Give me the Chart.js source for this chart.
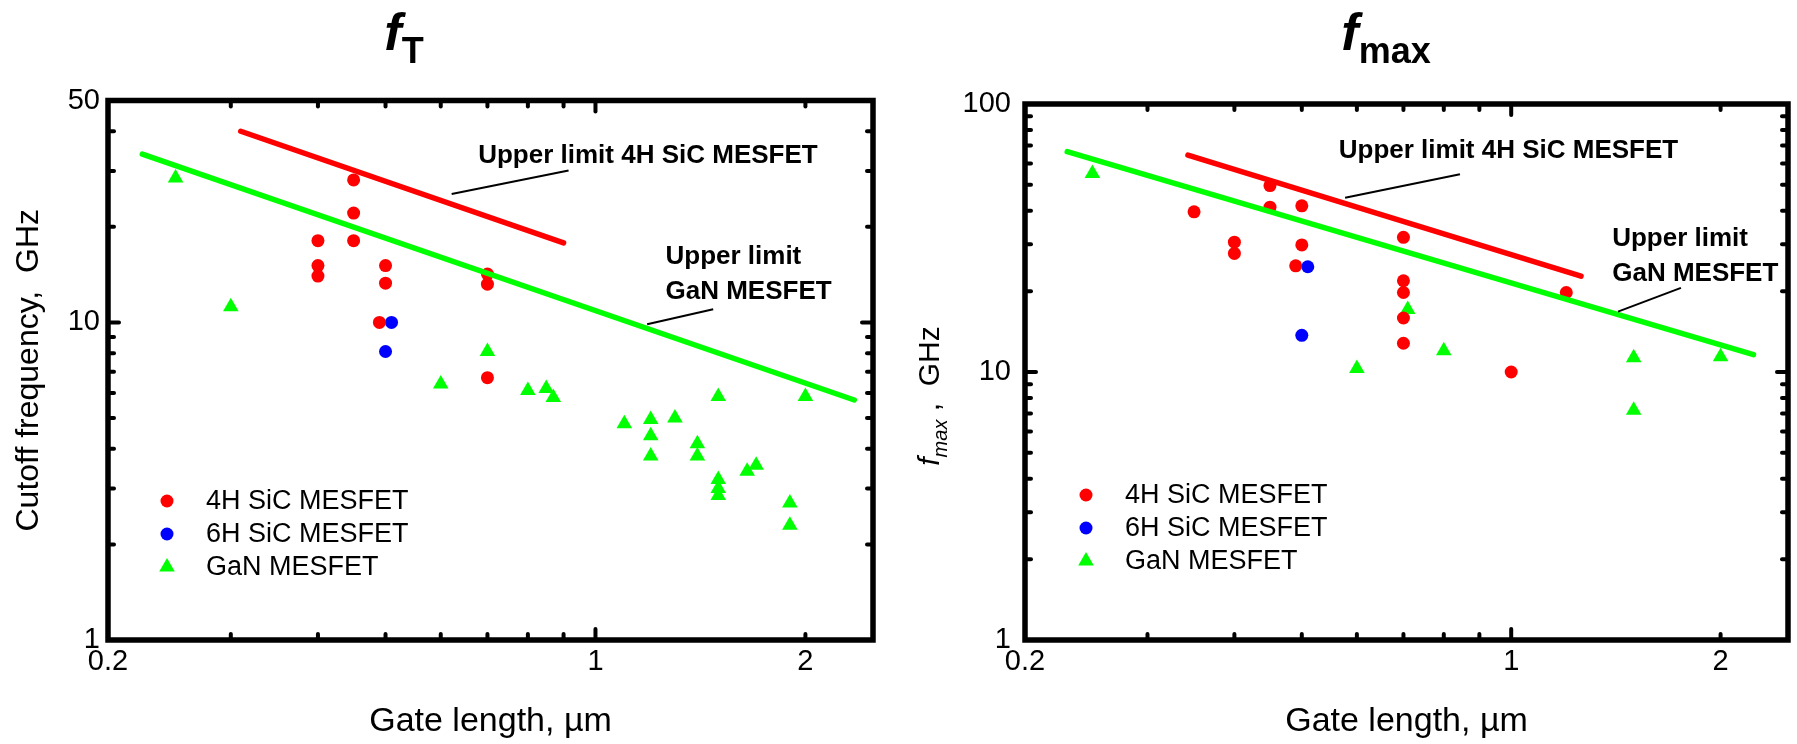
<!DOCTYPE html>
<html>
<head>
<meta charset="utf-8">
<script src="https://cdn.jsdelivr.net/npm/chart.js@4.4.1/dist/chart.umd.min.js"></script>
<style>
  html, body { margin: 0; padding: 0; background: #fff; }
  #wrap { position: relative; width: 1797px; height: 744px; overflow: hidden; }
  canvas { position: absolute; top: 0; }
</style>
</head>
<body>
<div id="wrap">
  <canvas id="ft" width="898" height="744" style="left:0"></canvas>
  <canvas id="fmax" width="899" height="744" style="left:898px"></canvas>
</div>
<script>
// gate length in µm, frequency in GHz

// fT panel
const ftSic4hGate = [0.40, 0.40, 0.40, 0.45, 0.45, 0.45, 0.49, 0.50, 0.50, 0.70, 0.70, 0.70];
const ftSic4hFreq = [18.1, 15.1, 14.0, 28.1, 22.1, 18.1, 10.0, 15.1, 13.3, 14.2, 13.2, 6.7];
const ftSic6hGate = [0.51, 0.50];
const ftSic6hFreq = [10.0, 8.1];
const ftGanGate = [0.25, 0.30, 0.60, 0.70, 0.80, 0.85, 0.87, 1.10, 1.20, 1.20, 1.20, 1.30,
                   1.40, 1.40, 1.50, 1.50, 1.50, 1.50, 1.65, 1.70, 1.90, 1.90, 2.00];
const ftGanFreq = [28.5, 11.2, 6.4, 8.1, 6.1, 6.2, 5.8, 4.8, 4.95, 4.4, 3.8, 5.0,
                   4.15, 3.8, 5.85, 3.2, 3.0, 2.85, 3.4, 3.55, 2.7, 2.3, 5.85];
const ftLimitSicGate = [0.31, 0.90];
const ftLimitSicFreq = [40, 17.8];
const ftLimitGanGate = [0.224, 2.35];
const ftLimitGanFreq = [33.9, 5.7];

// fmax panel
const fmSic4hGate = [0.35, 0.40, 0.40, 0.45, 0.45, 0.49, 0.50, 0.50, 0.70, 0.70, 0.70, 0.70, 0.70, 1.00, 1.20];
const fmSic4hFreq = [39.6, 30.5, 27.7, 49.6, 41.2, 24.9, 41.7, 29.8, 31.8, 21.9, 19.8, 15.9, 12.8, 10.0, 19.8];
const fmSic6hGate = [0.51, 0.50];
const fmSic6hFreq = [24.7, 13.7];
const fmGanGate = [0.25, 0.60, 0.71, 0.80, 1.50, 1.50, 2.00];
const fmGanFreq = [55, 10.3, 17.1, 12.0, 11.3, 7.2, 11.4];
const fmLimitSicGate = [0.343, 1.26];
const fmLimitSicFreq = [64.5, 22.8];
const fmLimitGanGate = [0.23, 2.23];
const fmLimitGanFreq = [66.4, 11.6];

// axis ticks
const xLabelTicks = [0.2, 1, 2];
const xMinorTicks = [0.3, 0.4, 0.5, 0.6, 0.7, 0.8, 0.9, 2];
const xMajorTicks = [1];
const ftYLabelTicks = [1, 10, 50];
const fmYLabelTicks = [1, 10, 100];
const ftYMinorTicks = [2, 3, 4, 5, 6, 7, 8, 9, 20, 30, 40];
const fmYMinorTicks = [2, 3, 4, 5, 6, 7, 8, 9, 20, 30, 40, 50, 60, 70, 80, 90];
const yMajorTicks = [10];

const FONT = '"Liberation Sans", Arial, Helvetica, sans-serif';
const RED = '#ff0000', BLUE = '#0000ff', GREEN = '#00ff00';

const zip = (xs, ys) => xs.map((x, i) => ({ x, y: ys[i] }));

function markers(label, gate, freq, color, style) {
  return {
    label, data: zip(gate, freq), order: 1, inLegend: true,
    pointStyle: style, pointRadius: style === 'triangle' ? 9 : 6.5,
    backgroundColor: color, borderColor: color, borderWidth: 0, showLine: false
  };
}

function limitLine(gate, freq, color) {
  return {
    data: zip(gate, freq), order: 0, showLine: true, pointRadius: 0,
    borderColor: color, borderWidth: 5.5, borderCapStyle: 'round'
  };
}

// frame, inward ticks, notes, legend and rich-text titles
const decor = {
  id: 'decor',
  afterDatasetsDraw(chart, args, o) {
    const { ctx, chartArea: a, scales: { x, y } } = chart;
    ctx.save();
    ctx.strokeStyle = '#000';
    ctx.fillStyle = '#000';

    ctx.lineWidth = 5.5;
    ctx.strokeRect(a.left, a.top, a.right - a.left, a.bottom - a.top);

    ctx.lineCap = 'round';
    ctx.lineWidth = 4;
    const seg = (x0, y0, x1, y1) => { ctx.beginPath(); ctx.moveTo(x0, y0); ctx.lineTo(x1, y1); ctx.stroke(); };
    xMinorTicks.concat(xMajorTicks).forEach(v => {
      const px = x.getPixelForValue(v), len = xMajorTicks.includes(v) ? 11 : 6;
      seg(px, a.bottom, px, a.bottom - len);
      seg(px, a.top, px, a.top + len);
    });
    o.yMinor.concat(yMajorTicks).forEach(v => {
      const py = y.getPixelForValue(v), len = yMajorTicks.includes(v) ? 11 : 6;
      seg(a.left, py, a.left + len, py);
      seg(a.right, py, a.right - len, py);
    });

    // "upper limit" notes with leader lines
    ctx.lineCap = 'butt';
    ctx.lineWidth = 2;
    ctx.font = 'bold 26px ' + FONT;
    ctx.textBaseline = 'alphabetic';
    ctx.textAlign = 'left';
    o.notes.forEach(n => {
      const tx = x.getPixelForValue(n.at[0]), ty = y.getPixelForValue(n.at[1]);
      n.lines.forEach((t, i) => ctx.fillText(t, tx, ty + i * 35));
      const [p, q] = n.lead;
      seg(x.getPixelForValue(p[0]), y.getPixelForValue(p[1]), x.getPixelForValue(q[0]), y.getPixelForValue(q[1]));
    });

    // legend inside the plot
    ctx.font = '27px ' + FONT;
    ctx.textBaseline = 'middle';
    const items = chart.data.datasets.filter(d => d.inLegend);
    items.forEach((d, i) => {
      const mx = a.left + o.legend.dx, my = a.bottom - o.legend.dy + i * 33;
      ctx.fillStyle = d.backgroundColor;
      ctx.beginPath();
      if (d.pointStyle === 'triangle') {
        const r = d.pointRadius;
        ctx.moveTo(mx, my - r);
        ctx.lineTo(mx + r * Math.sin(2 * Math.PI / 3), my + r / 2);
        ctx.lineTo(mx - r * Math.sin(2 * Math.PI / 3), my + r / 2);
        ctx.closePath();
      } else {
        ctx.arc(mx, my, d.pointRadius, 0, 2 * Math.PI);
      }
      ctx.fill();
      ctx.fillStyle = '#000';
      ctx.fillText(d.label, mx + 39, my + 1);
    });

    // panel title and optional rich y title
    const runs = (list, x0, y0) => {
      list.forEach(r => {
        ctx.font = r.font;
        ctx.fillText(r.text, x0, y0 + (r.dy || 0));
        x0 += ctx.measureText(r.text).width;
      });
    };
    const width = list => list.reduce((w, r) => { ctx.font = r.font; return w + ctx.measureText(r.text).width; }, 0);
    ctx.textBaseline = 'alphabetic';
    const t = o.title;
    runs(t.runs, t.cx - width(t.runs) / 2, t.baseline);
    if (o.yTitle) {
      const yt = o.yTitle;
      ctx.translate(yt.baselineX, (a.top + a.bottom) / 2 + yt.dy);
      ctx.rotate(-Math.PI / 2);
      runs(yt.runs, -width(yt.runs) / 2, 0);
    }
    ctx.restore();
  }
};

function axes(yMax, yLabels, yPad, yTitle) {
  const tickFont = { family: FONT, size: 29 };
  return {
    x: {
      type: 'logarithmic', min: 0.2, max: 2.5,
      grid: { display: false, drawTicks: false }, border: { display: false },
      afterBuildTicks: s => { s.ticks = xLabelTicks.map(v => ({ value: v })); },
      afterFit: s => { s.height = 104; },
      ticks: { autoSkip: false, maxRotation: 0, padding: 5, color: '#000', font: tickFont, callback: v => String(v) },
      title: { display: true, text: 'Gate length, µm', color: '#000', font: { family: FONT, size: 34 }, padding: { bottom: 1.5 } }
    },
    y: {
      type: 'logarithmic', min: 1, max: yMax,
      grid: { display: false, drawTicks: false }, border: { display: false },
      afterBuildTicks: s => { s.ticks = yLabels.map(v => ({ value: v })); },
      afterFit: s => { s.width = yPad.width; },
      ticks: { autoSkip: false, padding: yPad.gap, color: '#000', font: tickFont, callback: v => String(v) },
      title: yTitle ? { display: true, text: yTitle, color: '#000', font: { family: FONT, size: 32 }, padding: { top: 10 } } : { display: false }
    }
  };
}

function panel(id, datasets, scales, padding, decorOpts) {
  return new Chart(document.getElementById(id), {
    type: 'scatter',
    data: { datasets },
    options: {
      responsive: false, animation: false, devicePixelRatio: 1,
      layout: { padding },
      scales,
      plugins: { legend: { display: false }, tooltip: { enabled: false }, decor: decorOpts }
    },
    plugins: [decor]
  });
}

panel('ft', [
    limitLine(ftLimitSicGate, ftLimitSicFreq, RED),
    limitLine(ftLimitGanGate, ftLimitGanFreq, GREEN),
    markers('4H SiC MESFET', ftSic4hGate, ftSic4hFreq, RED, 'circle'),
    markers('6H SiC MESFET', ftSic6hGate, ftSic6hFreq, BLUE, 'circle'),
    markers('GaN MESFET', ftGanGate, ftGanFreq, GREEN, 'triangle')
  ],
  axes(50, ftYLabelTicks, { width: 108, gap: 8 }, 'Cutoff frequency,  GHz'),
  { top: 100.5, right: 25, bottom: 0, left: 0 },
  {
    yMinor: ftYMinorTicks,
    notes: [
      { lines: ['Upper limit 4H SiC MESFET'], at: [0.679, 31.8], lead: [[0.622, 25.4], [0.915, 30.1]] },
      { lines: ['Upper limit', 'GaN MESFET'], at: [1.26, 15.3], lead: [[1.186, 9.87], [1.475, 11.0]] }
    ],
    legend: { dx: 59, dy: 139 },
    title: { cx: 404, baseline: 50, runs: [
      { text: 'f', font: 'italic bold 52px ' + FONT },
      { text: 'T', font: 'bold 36px ' + FONT, dy: 13 }
    ] }
  });

panel('fmax', [
    limitLine(fmLimitSicGate, fmLimitSicFreq, RED),
    limitLine(fmLimitGanGate, fmLimitGanFreq, GREEN),
    markers('4H SiC MESFET', fmSic4hGate, fmSic4hFreq, RED, 'circle'),
    markers('6H SiC MESFET', fmSic6hGate, fmSic6hFreq, BLUE, 'circle'),
    markers('GaN MESFET', fmGanGate, fmGanFreq, GREEN, 'triangle')
  ],
  axes(100, fmYLabelTicks, { width: 127, gap: 14 }, null),
  { top: 104, right: 9, bottom: 0, left: 0 },
  {
    yMinor: fmYMinorTicks,
    notes: [
      { lines: ['Upper limit 4H SiC MESFET'], at: [0.565, 63.1], lead: [[0.577, 44.7], [0.844, 54.7]] },
      { lines: ['Upper limit', 'GaN MESFET'], at: [1.397, 29.5], lead: [[1.424, 16.8], [1.754, 20.6]] }
    ],
    legend: { dx: 61, dy: 145 },
    title: { cx: 488, baseline: 50, runs: [
      { text: 'f', font: 'italic bold 52px ' + FONT },
      { text: 'max', font: 'bold 36px ' + FONT, dy: 13 }
    ] },
    yTitle: { baselineX: 41, dy: 24, runs: [
      { text: 'f', font: 'italic 30px ' + FONT },
      { text: 'max', font: 'italic 20px ' + FONT, dy: 8 },
      { text: ' ,  GHz', font: '30px ' + FONT }
    ] }
  });
</script>
</body>
</html>
